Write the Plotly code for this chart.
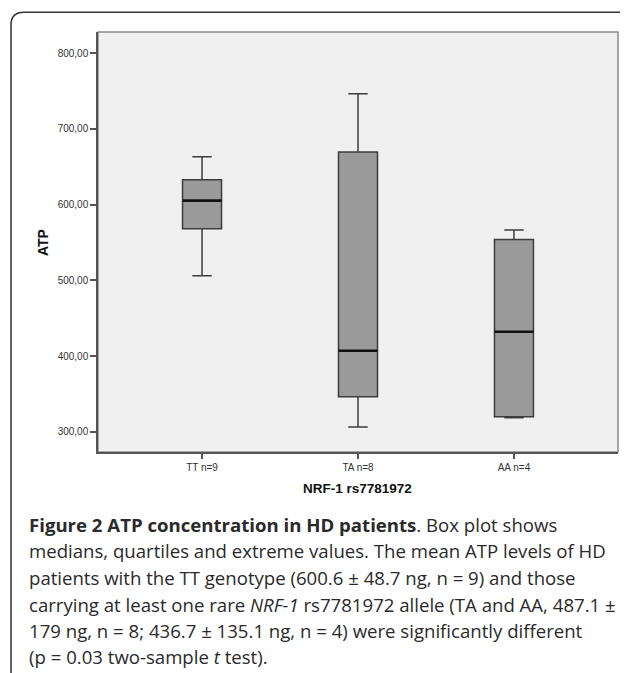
import plotly.graph_objects as go

# ---- data ----
categories = ["TT n=9", "TA n=8", "AA n=4"]
upper_whisker = [663.4, 746.6, 566.6]
q3_values = [633.0, 669.6, 553.8]
medians = [605.3, 407.0, 432.1]
q1_values = [568.3, 346.2, 319.8]
lower_whisker = [506.2, 306.2, 318.5]
y_tick_values = [300, 400, 500, 600, 700, 800]
y_tick_labels = ["300,00", "400,00", "500,00", "600,00", "700,00", "800,00"]

caption_lines = [
    "<b>Figure 2 ATP concentration in HD patients</b>. Box plot shows",
    "medians, quartiles and extreme values. The mean ATP levels of HD",
    "patients with the TT genotype (600.6 ± 48.7 ng, n = 9) and those",
    "carrying at least one rare <i>NRF-1</i> rs7781972 allele (TA and AA, 487.1 ±",
    "179 ng, n = 8; 436.7 ± 135.1 ng, n = 4) were significantly different",
    "(p = 0.03 two-sample <i>t</i> test).",
]

# ---- layout geometry (page has an 8px body margin) ----
OFF = 8
W, H = 628 - OFF, 673 - OFF
PLOT_L, PLOT_R, PLOT_T, PLOT_B = 98, 618, 32, 452   # page pixel positions
ML = PLOT_L - OFF
MT = PLOT_T - OFF
MR = W - (PLOT_R - OFF)
MB = H - (PLOT_B - OFF)
PW = W - ML - MR
PH = H - MT - MB
BOX_W = 0.25


def px(x):
    return (x - PLOT_L) / PW


def py(y):
    return (PLOT_B - y) / PH


pos = list(range(len(categories)))

fig = go.Figure()
fig.add_trace(go.Box(
    x=pos,
    q1=q1_values, median=medians, q3=q3_values,
    lowerfence=lower_whisker, upperfence=upper_whisker,
    width=BOX_W, whiskerwidth=0.5,
    fillcolor="#9a9a9a",
    line=dict(color="#3c3c3c", width=1.5),
    boxpoints=False, showlegend=False, hoverinfo="skip",
))

# thicker median lines
mx, my = [], []
for p, m in zip(pos, medians):
    mx += [p - BOX_W / 2, p + BOX_W / 2, None]
    my += [m, m, None]
fig.add_trace(go.Scatter(x=mx, y=my, mode="lines",
                         line=dict(color="#111111", width=2.6),
                         showlegend=False, hoverinfo="skip"))

tick_font = dict(family="Liberation Sans, Arial, sans-serif", size=10, color="#333333")

fig.update_layout(
    width=W, height=H,
    margin=dict(l=ML, r=MR, t=MT, b=MB),
    paper_bgcolor="white",
    plot_bgcolor="#f0f0f0",
    xaxis=dict(range=[-0.667, 2.667], tickvals=pos, ticktext=categories,
               showgrid=False, zeroline=False, showline=True,
               linecolor="#555555", linewidth=1.5,
               ticks="outside", ticklen=5, tickwidth=1.5, tickcolor="#555555",
               tickfont=tick_font),
    yaxis=dict(range=[273.2, 828.1], tickvals=y_tick_values, ticktext=y_tick_labels,
               showgrid=False, zeroline=False, showline=True,
               linecolor="#555555", linewidth=1.5,
               ticks="outside", ticklen=6, tickwidth=1.5, tickcolor="#555555",
               tickfont=tick_font),
)

shapes = [
    # top/right frame of plot area
    dict(type="rect", xref="paper", yref="paper", x0=0, x1=1, y0=0, y1=1,
         line=dict(color="#8a8a8a", width=1.5), layer="below"),
    # outer rounded border
    dict(type="path", xref="paper", yref="paper",
         path=(f"M {px(660)} {py(12.3)} L {px(24)} {py(12.3)} "
               f"Q {px(11)} {py(12.3)} {px(11)} {py(25)} "
               f"L {px(11)} {py(700)}"),
         line=dict(color="#333333", width=1.5)),
]
fig.update_layout(shapes=shapes)

annotations = [
    dict(text="<b>ATP</b>", xref="paper", yref="paper", x=px(43), y=py(243),
         textangle=-90, showarrow=False, xanchor="center", yanchor="middle",
         font=dict(family="Liberation Sans, Arial, sans-serif", size=14, color="#111111")),
    dict(text="<b>NRF-1 rs7781972</b>", xref="paper", yref="paper", x=px(357.5), y=py(489),
         showarrow=False, xanchor="center", yanchor="middle",
         font=dict(family="Liberation Sans, Arial, sans-serif", size=13.5, color="#111111")),
]
line_y = [524, 550.7, 577.3, 604, 630.5, 656.5]
for txt, yy in zip(caption_lines, line_y):
    annotations.append(dict(
        text=txt, xref="paper", yref="paper", x=px(26.5), y=py(yy),
        showarrow=False, xanchor="left", yanchor="middle", align="left",
        font=dict(family="Open Sans, sans-serif", size=18.6, color="#2a2a2a")))
fig.update_layout(annotations=annotations)

fig.write_html("out.html")
